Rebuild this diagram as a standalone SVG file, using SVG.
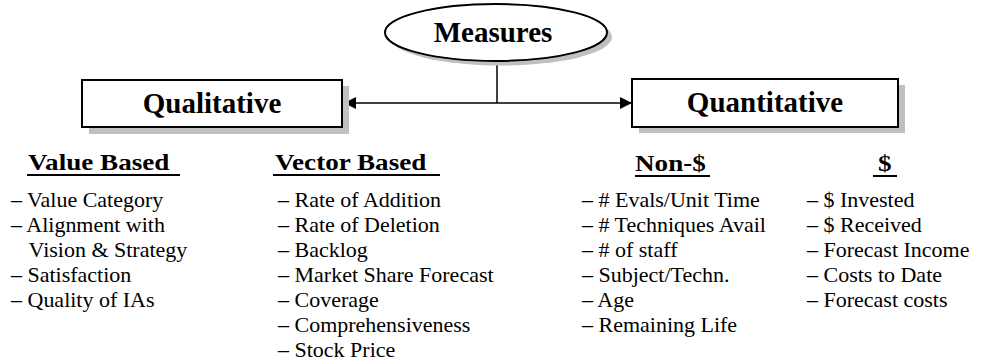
<svg xmlns="http://www.w3.org/2000/svg" width="985" height="364" viewBox="0 0 985 364">
  <style>
    text { font-family: 'Liberation Serif', Tinos, 'Times New Roman', Times, 'DejaVu Serif', 'Noto Serif', serif; fill: #000; }
    .title { font-weight: bold; font-size: 29px; text-anchor: middle; }
    .head { font-weight: bold; font-size: 24px; }
    .item { font-size: 20px; }
    .shadow { fill: #c0c0c0; }
    .frame { fill: #fff; stroke: #000; stroke-width: 2; }
    .link { stroke: #000; stroke-width: 1.5; fill: none; }
    .rule { stroke: #000; stroke-width: 2; }
  </style>
  <defs>
    <marker id="arrow" viewBox="0 0 12 12" refX="12" refY="6" markerWidth="12" markerHeight="12" markerUnits="userSpaceOnUse" orient="auto-start-reverse">
      <path d="M0,0 L12,6 L0,12 z" fill="#000"/>
    </marker>
  </defs>

  <rect width="985" height="364" fill="#fff"/>

  <!-- connectors -->
  <g id="connectors">
    <line class="link" x1="497" y1="61" x2="497" y2="103"/>
    <path class="link" d="M344,103 H632" marker-start="url(#arrow)" marker-end="url(#arrow)"/>
  </g>

  <!-- top node -->
  <g id="measures">
    <ellipse class="shadow" cx="501" cy="37" rx="111" ry="28.5"/>
    <ellipse class="frame" cx="496" cy="32.5" rx="111" ry="28.5"/>
    <text class="title" x="493" y="42" font-family="Liberation Serif, serif">Measures</text>
  </g>

  <!-- branch nodes -->
  <g id="qualitative">
    <rect class="shadow" x="89" y="86" width="260" height="48"/>
    <rect class="frame" x="82" y="80" width="260" height="47"/>
    <text class="title" x="212" y="113">Qualitative</text>
  </g>

  <g id="quantitative">
    <rect class="shadow" x="639" y="85" width="266" height="48"/>
    <rect class="frame" x="632" y="79" width="266" height="48"/>
    <text class="title" x="765" y="112">Quantitative</text>
  </g>

  <!-- column: value based -->
  <g id="value-based">
    <text class="head" transform="translate(28,170) scale(1.13,1)">Value Based</text>
    <line class="rule" x1="27" y1="175" x2="180" y2="175"/>
    <g transform="translate(11,0) scale(1.1,1)">
      <text class="item" y="207">– Value Category</text>
      <text class="item" y="232">– Alignment with</text>
      <text class="item" x="16" y="257">Vision &amp; Strategy</text>
      <text class="item" y="282">– Satisfaction</text>
      <text class="item" y="307">– Quality of IAs</text>
    </g>
  </g>

  <!-- column: vector based -->
  <g id="vector-based">
    <text class="head" transform="translate(275,170) scale(1.13,1)">Vector Based</text>
    <line class="rule" x1="273" y1="175" x2="440" y2="175"/>
    <g transform="translate(278,0) scale(1.1,1)">
      <text class="item" y="207">– Rate of Addition</text>
      <text class="item" y="232">– Rate of Deletion</text>
      <text class="item" y="257">– Backlog</text>
      <text class="item" y="282">– Market Share Forecast</text>
      <text class="item" y="307">– Coverage</text>
      <text class="item" y="332">– Comprehensiveness</text>
      <text class="item" y="357">– Stock Price</text>
    </g>
  </g>

  <!-- column: non-dollar -->
  <g id="non-dollar">
    <text class="head" transform="translate(635,171) scale(1.13,1)">Non-$</text>
    <line class="rule" x1="635" y1="176" x2="710" y2="176"/>
    <g transform="translate(582,0) scale(1.1,1)">
      <text class="item" y="207">– # Evals/Unit Time</text>
      <text class="item" y="232">– # Techniques Avail</text>
      <text class="item" y="257">– # of staff</text>
      <text class="item" y="282">– Subject/Techn.</text>
      <text class="item" y="307">– Age</text>
      <text class="item" y="332">– Remaining Life</text>
    </g>
  </g>

  <!-- column: dollar -->
  <g id="dollar">
    <text class="head" transform="translate(878,171) scale(1.13,1)">$</text>
    <line class="rule" x1="873" y1="176" x2="897" y2="176"/>
    <g transform="translate(807,0) scale(1.1,1)">
      <text class="item" y="207">– $ Invested</text>
      <text class="item" y="232">– $ Received</text>
      <text class="item" y="257">– Forecast Income</text>
      <text class="item" y="282">– Costs to Date</text>
      <text class="item" y="307">– Forecast costs</text>
    </g>
  </g>
</svg>
